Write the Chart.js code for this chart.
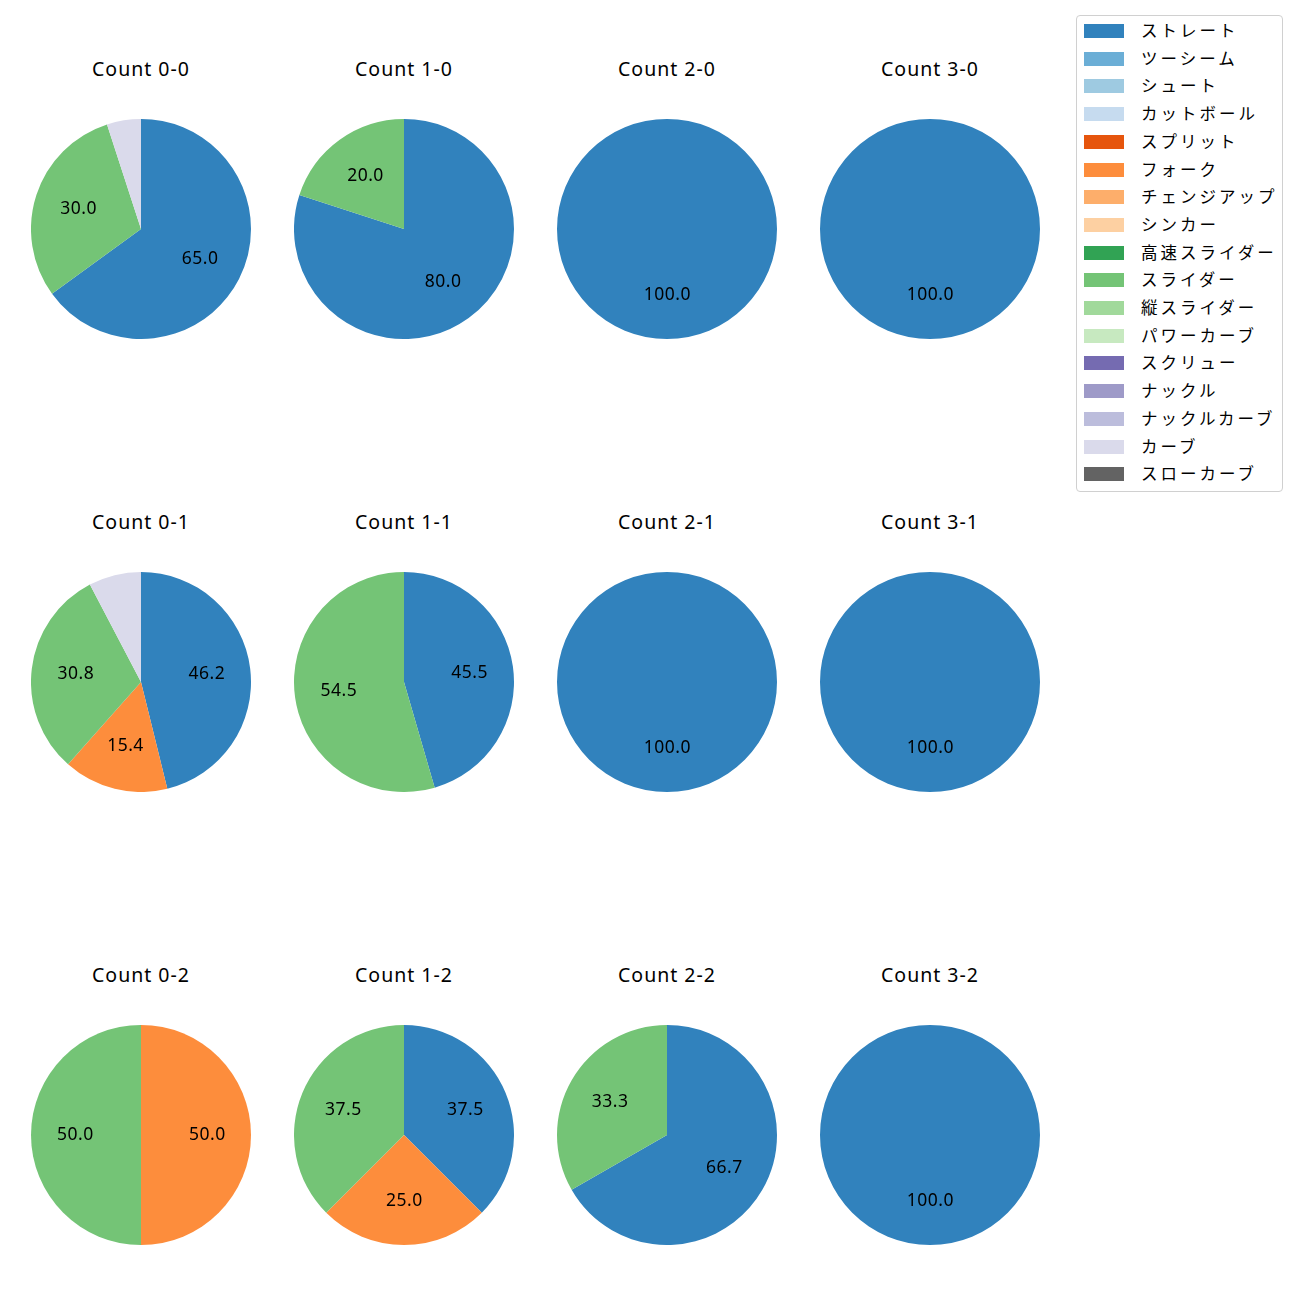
<!DOCTYPE html>
<html lang="ja">
<head>
  <meta charset="UTF-8">
  <title>Count pies</title>
  <script src="https://cdn.jsdelivr.net/npm/chart.js"></script>
  <style>
    body { margin: 0; background: #fff; font-family: "Noto Sans CJK JP", "Noto Sans", sans-serif; }
    #wrap { position: relative; width: 1300px; height: 1300px; }
    .title { position: absolute; width: 240px; text-align: center; font-family: "Noto Sans", sans-serif;
      font-size: 19.5px; letter-spacing: 1px; color: #000; line-height: 22px; }
    .pie { position: absolute; }
    #legend { position: absolute; left: 1076px; top: 15px; width: 205px; height: 475px;
      border: 1px solid #d0d0d0; border-radius: 4px; background: #fff; }
    .item { position: absolute; left: 0; height: 20px; font-size: 16.5px; line-height: 20px; color: #000; white-space: nowrap; }
    .sw { position: absolute; left: 7px; top: 3px; width: 40px; height: 14px; }
    .lab { position: absolute; left: 64px; top: -1px; letter-spacing: 3px; }
  </style>
</head>
<body>
<div id="wrap"><div id="legend"></div></div>
<script>
// pitch types (legend order) and their colours
const pitchTypes = ['ストレート', 'ツーシーム', 'シュート', 'カットボール', 'スプリット', 'フォーク',
  'チェンジアップ', 'シンカー', '高速スライダー', 'スライダー', '縦スライダー', 'パワーカーブ',
  'スクリュー', 'ナックル', 'ナックルカーブ', 'カーブ', 'スローカーブ'];
const pitchColors = ['#3182bd', '#6baed6', '#9ecae1', '#c6dbef', '#e6550d', '#fd8d3c',
  '#fdae6b', '#fdd0a2', '#31a354', '#74c476', '#a1d99b', '#c7e9c0',
  '#756bb1', '#9e9ac8', '#bcbddc', '#dadaeb', '#636363'];

// counts, row by row
const counts = ['0-0', '1-0', '2-0', '3-0', '0-1', '1-1', '2-1', '3-1', '0-2', '1-2', '2-2', '3-2'];

// share (%) per count for the pitch types that appear
const straight = [65.0, 80.0, 100, 100, 46.2, 45.5, 100, 100, 0, 37.5, 66.7, 100];
const fork     = [0, 0, 0, 0, 15.4, 0, 0, 0, 50.0, 25.0, 0, 0];
const slider   = [30.0, 20.0, 0, 0, 30.8, 54.5, 0, 0, 50.0, 37.5, 33.3, 0];
const curve    = [5.0, 0, 0, 0, 7.7, 0, 0, 0, 0, 0, 0, 0];

const series = { 'ストレート': straight, 'フォーク': fork, 'スライダー': slider, 'カーブ': curve };

const colX = [141, 404, 667, 930];
const rowY = [229, 682, 1135];
const R = 110;

const wrap = document.getElementById('wrap');

const pctLabels = {
  id: 'pctLabels',
  afterDatasetsDraw(chart) {
    const ctx = chart.ctx;
    const meta = chart.getDatasetMeta(0);
    const data = chart.data.datasets[0].data;
    ctx.save();
    ctx.font = '17.5px "Noto Sans", sans-serif';
    ctx.letterSpacing = '0.5px';
    ctx.fillStyle = '#000';
    ctx.textAlign = 'center';
    ctx.textBaseline = 'middle';
    meta.data.forEach((arc, i) => {
      if (data[i] < 10) return;
      const mid = (arc.startAngle + arc.endAngle) / 2;
      const r = arc.outerRadius * 0.6;
      ctx.fillText(data[i].toFixed(1), arc.x + Math.cos(mid) * r + 0.3, arc.y + Math.sin(mid) * r);
    });
    ctx.restore();
  }
};

counts.forEach((c, k) => {
  const cx = colX[k % 4], cy = rowY[Math.floor(k / 4)];
  const t = document.createElement('div');
  t.className = 'title';
  t.style.left = (cx - 120) + 'px';
  t.style.top = (cy - 171) + 'px';
  t.textContent = 'Count ' + c;
  wrap.appendChild(t);

  const cv = document.createElement('canvas');
  cv.className = 'pie';
  cv.width = 2 * R; cv.height = 2 * R;
  cv.style.left = (cx - R) + 'px';
  cv.style.top = (cy - R) + 'px';
  cv.style.width = 2 * R + 'px';
  cv.style.height = 2 * R + 'px';
  wrap.appendChild(cv);

  const labels = [], vals = [], cols = [];
  pitchTypes.forEach((p, i) => {
    if (series[p] && series[p][k] > 0) {
      labels.push(p); vals.push(series[p][k]); cols.push(pitchColors[i]);
    }
  });

  new Chart(cv, {
    type: 'pie',
    data: { labels: labels, datasets: [{ data: vals, backgroundColor: cols, borderWidth: 0 }] },
    options: {
      responsive: false,
      animation: false,
      layout: { padding: 0 },
      plugins: { legend: { display: false }, tooltip: { enabled: false } }
    },
    plugins: [pctLabels]
  });
});

const legend = document.getElementById('legend');
pitchTypes.forEach((p, i) => {
  const it = document.createElement('div');
  it.className = 'item';
  it.style.top = (5 + i * 27.7) + 'px';
  it.innerHTML = '<span class="sw" style="background:' + pitchColors[i] + '"></span><span class="lab">' + p + '</span>';
  legend.appendChild(it);
});
</script>
</body>
</html>
